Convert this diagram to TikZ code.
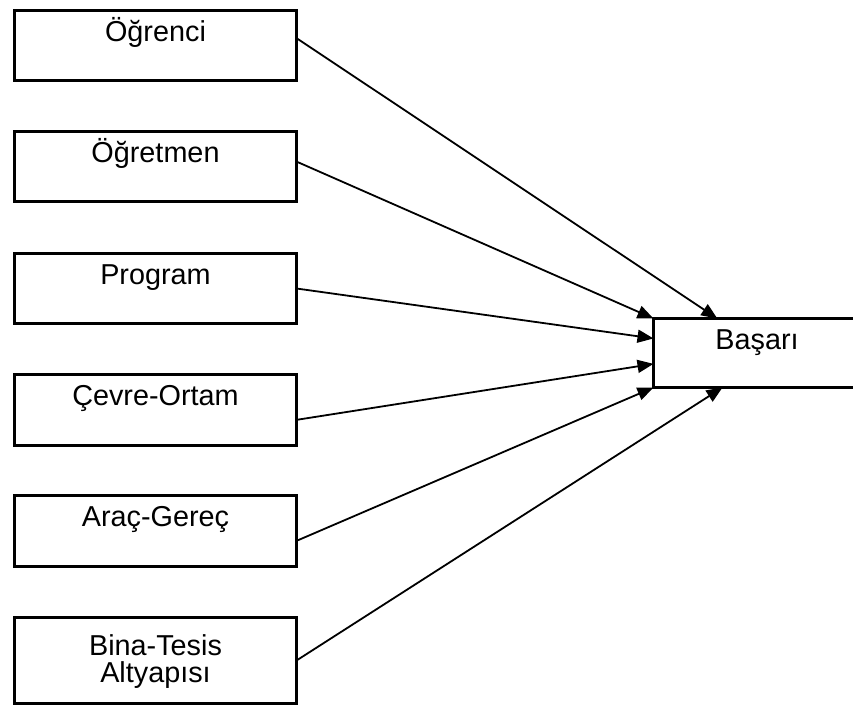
\documentclass[tikz,border=0pt]{standalone}
\usepackage{fontspec}
\setmainfont{Liberation Sans}
\usetikzlibrary{arrows.meta}

\begin{document}
\begin{tikzpicture}[x=0.5pt,y=-0.5pt]
	\tikzstyle{box}=[draw=black,line width=1.5pt,minimum width=141pt,inner sep=0pt,outer sep=0pt,text height=15.25pt,align=center,font=\fontsize{14.4}{13.5}\selectfont]
	\tikzstyle{link}=[line width=0.9pt,-{Triangle[length=8pt,width=6.5pt]}]
	\useasboundingbox (0,0) rectangle (853,707);
	% factors
	\node[box,text depth=19.75pt](ogrenci) at (155.5,45.5) {Öğrenci};
	\node[box,text depth=19.75pt](ogretmen) at (155.5,166.5) {Öğretmen};
	\node[box,text depth=19.75pt](program) at (155.5,288.5) {Program};
	\node[box,text depth=20.25pt](cevre) at (155.5,410) {Çevre-Ortam};
	\node[box,text depth=20.25pt](arac) at (155.5,531) {Araç-Gereç};
	\node[box,text height=32.25pt,text depth=10.75pt](bina) at (155.5,660.5) {Bina-Tesis\\Altyapısı};
	% outcome
	\node[box,minimum width=103.5pt,text depth=19.25pt](basari) at (757,353) {Başarı};
	\path[link]
		(ogrenci.3) edge (basari.139)
		(ogretmen.2) edge (basari.north west)
		(program.east) edge (basari.172)
		(cevre.356) edge (basari.186)
		(arac.356) edge (basari.south west)
		(bina.east) edge (basari.225);
\end{tikzpicture}
\end{document}
